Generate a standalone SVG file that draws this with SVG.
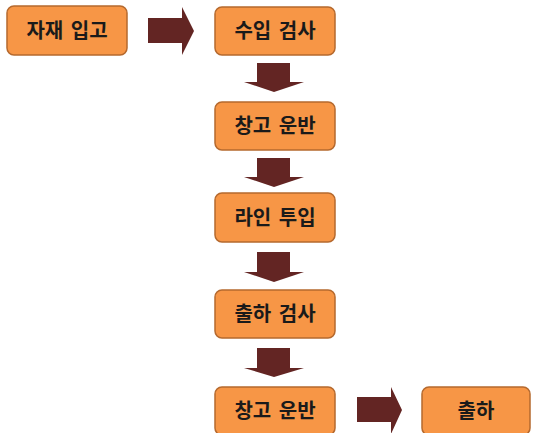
<svg xmlns="http://www.w3.org/2000/svg" width="536" height="433" viewBox="0 0 536 433">
<style>
.box{fill:#F79646;stroke:#B5692E;stroke-width:1.5}
.lbl{font-family:"Noto Sans CJK KR","Noto Sans",sans-serif;font-weight:bold;font-size:20px;fill:#1a1a1a;text-anchor:middle;word-spacing:3px}
.arr{fill:#632523}
</style>
<rect width="536" height="433" fill="#ffffff"/>
<g id="connectors">
<polygon class="arr" points="148,18 182,18 182,7 194,31 182,55 182,43 148,43"/>
<polygon class="arr" points="257,63 290,63 290,82 304,82 274,92 244,82 257,82"/>
<polygon class="arr" points="257,158 290,158 290,177 304,177 274,187 244,177 257,177"/>
<polygon class="arr" points="257,252 290,252 290,272 304,272 274,282 244,272 257,272"/>
<polygon class="arr" points="257,348 290,348 290,368 304,368 274,377 244,368 257,368"/>
<polygon class="arr" points="357,397 391,397 391,387 402,410 391,434 391,422 357,422"/>
</g>
<g id="n1"><rect class="box" x="7" y="6" width="120" height="49" rx="7"/><text class="lbl" x="67" y="38">자재 입고</text></g>
<g id="n2"><rect class="box" x="215" y="7" width="120" height="48" rx="7"/><text class="lbl" x="275" y="38">수입 검사</text></g>
<g id="n3"><rect class="box" x="215" y="102" width="120" height="48" rx="7"/><text class="lbl" x="275" y="133">창고 운반</text></g>
<g id="n4"><rect class="box" x="215" y="193" width="120" height="49" rx="7"/><text class="lbl" x="275" y="224.5">라인 투입</text></g>
<g id="n5"><rect class="box" x="215" y="290" width="120" height="48" rx="7"/><text class="lbl" x="275" y="321">출하 검사</text></g>
<g id="n6"><rect class="box" x="215" y="387" width="120" height="48" rx="7"/><text class="lbl" x="275" y="418">창고 운반</text></g>
<g id="n7"><rect class="box" x="422" y="387" width="108" height="48" rx="7"/><text class="lbl" x="476" y="418">출하</text></g>
</svg>
